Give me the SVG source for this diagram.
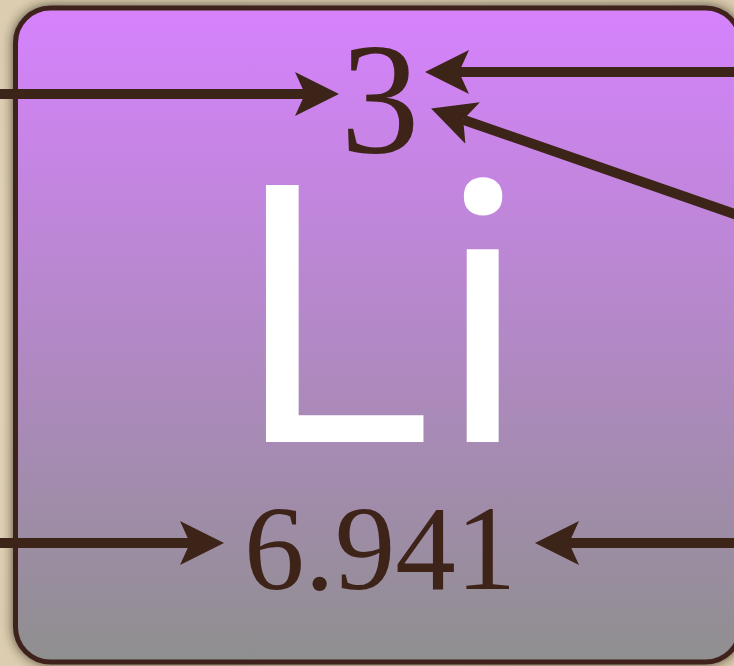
<svg xmlns="http://www.w3.org/2000/svg" width="734" height="666" viewBox="0 0 734 666">
<defs>
<linearGradient id="bg" x1="0" y1="0" x2="0" y2="1">
<stop offset="0" stop-color="#d682fd"/>
<stop offset="1" stop-color="#8f8f8f"/>
</linearGradient>
<radialGradient id="paper" cx="0.5" cy="0.5" r="0.7">
<stop offset="0" stop-color="#efe4cb"/>
<stop offset="1" stop-color="#dccdb0"/>
</radialGradient>
<filter id="shadow" x="-10%" y="-10%" width="120%" height="120%">
<feGaussianBlur in="SourceAlpha" stdDeviation="6"/>
<feOffset dx="0" dy="0" result="b"/>
<feFlood flood-color="#2a2418" flood-opacity="0.8"/>
<feComposite in2="b" operator="in"/>
<feMerge><feMergeNode/><feMergeNode in="SourceGraphic"/></feMerge>
</filter>
<marker id="ah" markerUnits="userSpaceOnUse" markerWidth="46" markerHeight="46" viewBox="0 -23 46 46" refX="10" refY="0" orient="auto">
<path d="M0,-22 L44,0 L0,22 L10,0 Z" fill="#3d2419"/>
</marker>
<style>
.num{fill:#3e2319;font-family:"Liberation Serif","DejaVu Serif",serif;text-anchor:middle}
.sym{fill:#ffffff;font-family:"Open Sans","Noto Sans",sans-serif;text-anchor:middle}
.arrow{stroke:#3d2419;stroke-width:10;fill:none;marker-end:url(#ah)}
</style>
</defs>
<rect x="0" y="0" width="734" height="666" fill="url(#paper)"/>
<g id="card">
<rect x="15.5" y="8" width="725" height="654" rx="35" ry="35" fill="url(#bg)" stroke="#3f241a" stroke-width="5" filter="url(#shadow)"/>
</g>
<g id="atomic-number">
<text class="num" x="380" y="152" font-size="158">3</text>
</g>
<g id="symbol">
<text class="sym" x="380" y="442" font-size="360" textLength="305" lengthAdjust="spacingAndGlyphs">Li</text>
</g>
<g id="atomic-mass">
<text class="num" x="380" y="589" font-size="121">6.941</text>
</g>
<g id="connectors">
<line class="arrow" x1="0" y1="94" x2="305" y2="94"/>
<line class="arrow" x1="734" y1="72" x2="459" y2="72"/>
<line class="arrow" x1="740" y1="216" x2="463.2" y2="119.7"/>
<line class="arrow" x1="0" y1="543" x2="190" y2="543"/>
<line class="arrow" x1="734" y1="543" x2="569" y2="543"/>
</g>
</svg>
